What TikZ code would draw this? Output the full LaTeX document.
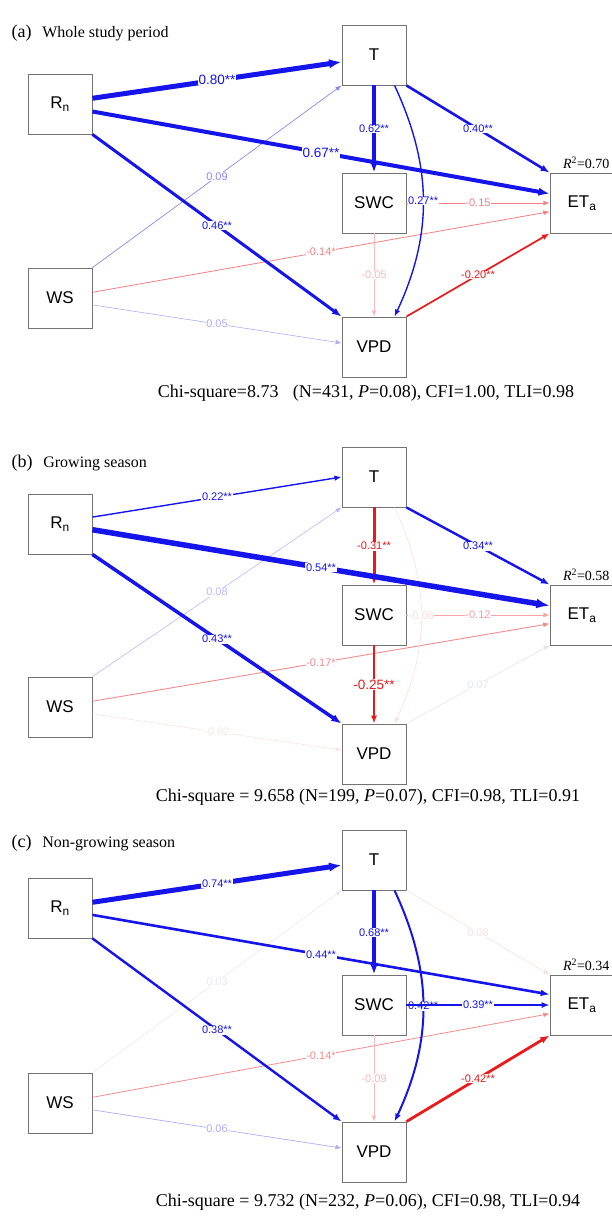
\documentclass[tikz,border=0pt]{standalone}
\usepackage{fontspec}
\setmainfont{Liberation Serif}
\setsansfont{Liberation Sans}
\usetikzlibrary{arrows.meta}
\definecolor{pathblue}{RGB}{20,20,235}
\definecolor{pathred}{RGB}{235,25,25}

\begin{document}
\begin{tikzpicture}[x=1pt, y=-1pt,
    every node/.style={align=center},
    box/.style={rectangle, draw=black!55, line width=0.9pt, minimum width=64pt, minimum height=60pt, inner sep=2pt, font=\sffamily\fontsize{17}{19}\selectfont},
    arr/.style={-{Latex[length=5pt 1.5, width=4pt 1.1]}},
    lbl/.style={fill=white, inner sep=0.6pt, font=\sffamily\fontsize{11}{12}\selectfont},
    biglbl/.style={lbl, font=\sffamily\fontsize{13.5}{15}\selectfont},
    panel/.style={anchor=west, font=\fontsize{18}{20}\selectfont},
    fitline/.style={font=\fontsize{18}{20}\selectfont},
    rsq/.style={anchor=south west, font=\fontsize{14}{16}\selectfont}
]
\useasboundingbox (0,0) rectangle (612,1218);

% (a) whole study period
\node[panel] (titA) at (8,33) {(a)\hspace{0.6em}{\fontsize{16}{18}\selectfont Whole study period}};
\node[box] (rnA)  at (60,104)  {R\textsubscript{n}};
\node[box] (tA)   at (374,55)  {T};
\node[box] (swcA) at (374,203) {SWC};
\node[box] (etA)  at (582,203) {ET\textsubscript{a}};
\node[box] (wsA)  at (60,298)  {WS};
\node[box] (vpdA) at (374,347) {VPD};
\node[rsq] (rsqA) at ([xshift=10pt]etA.north west) {\textit{R}\textsuperscript{2}=0.70};

\draw[arr, line width=0.6pt, pathblue!35] (wsA.-12) -- node[lbl]{0.05} (vpdA.173);
\draw[arr, line width=0.7pt, pathblue!50] (wsA.north east) -- node[lbl]{0.09} (tA.south west);
\draw[arr, line width=0.8pt, pathred!55] (wsA.10) -- node[lbl]{-0.14*} (etA.195);
\draw[arr, line width=0.6pt, pathred!30] (swcA.south) -- node[lbl]{-0.05} (vpdA.north);
\draw[arr, line width=0.8pt, pathred!55] (swcA.east) -- node[lbl]{-0.15} (etA.west);
\draw[arr, line width=1.7pt, pathred] (vpdA.north east) -- node[lbl]{-0.20**} (etA.south west);
\draw[arr, line width=3pt, pathblue] (rnA.south east) -- node[lbl]{0.46**} (vpdA.north west);
\draw[arr, line width=1.4pt, pathblue] (tA.-56) to[bend left=25] node[lbl]{0.27**} (vpdA.56);
\draw[arr, line width=2.6pt, pathblue] (tA.south east) -- node[lbl]{0.40**} (etA.north west);
\draw[arr, line width=4pt, pathblue] (tA.south) -- node[lbl]{0.62**} (swcA.north);
\draw[arr, line width=4pt, pathblue] (rnA.-13) -- node[biglbl]{0.67**} (etA.164);
\draw[arr, line width=5pt, pathblue] (rnA.10) -- node[biglbl]{0.80**} (tA.192);
\node[fitline] (fitA) at (366,393) {Chi-square=8.73\hspace{0.8em}(N=431, \textit{P}=0.08), CFI=1.00, TLI=0.98};

% (b) growing season
\node[panel] (titB) at (8,463) {(b)\hspace{0.6em}{\fontsize{16}{18}\selectfont Growing season}};
\node[box] (rnB)  at (60,524)  {R\textsubscript{n}};
\node[box] (tB)   at (374,477) {T};
\node[box] (swcB) at (374,615) {SWC};
\node[box] (etB)  at (582,615) {ET\textsubscript{a}};
\node[box] (wsB)  at (60,707)  {WS};
\node[box] (vpdB) at (374,754) {VPD};
\node[rsq] (rsqB) at ([xshift=10pt]etB.north west) {\textit{R}\textsuperscript{2}=0.58};

\draw[arr, line width=0.6pt, pathred!12] (wsB.-12) -- node[lbl]{-0.02} (vpdB.173);
\draw[arr, line width=0.6pt, pathblue!30] (wsB.north east) -- node[lbl]{0.08} (tB.south west);
\draw[arr, line width=0.9pt, pathred!50] (wsB.10) -- node[lbl]{-0.17*} (etB.195);
\draw[arr, line width=0.6pt, pathblue!12] (vpdB.north east) -- node[lbl]{0.07} (etB.south west);
\draw[arr, line width=0.8pt, pathred!40] (swcB.east) -- node[lbl]{-0.12} (etB.west);
\draw[arr, line width=0.6pt, pathred!15] (tB.-56) to[bend left=25] node[lbl]{-0.06} (vpdB.56);
\draw[arr, line width=2pt, pathred] (swcB.south) -- node[biglbl]{-0.25**} (vpdB.north);
\draw[arr, line width=2.4pt, pathblue] (tB.south east) -- node[lbl]{0.34**} (etB.north west);
\draw[arr, line width=3pt, pathred] (tB.south) -- node[lbl]{-0.31**} (swcB.north);
\draw[arr, line width=3.5pt, pathblue] (rnB.south east) -- node[lbl]{0.43**} (vpdB.north west);
\draw[arr, line width=5.5pt, pathblue] (rnB.-10) -- node[lbl]{0.54**} (etB.164);
\draw[arr, line width=1.4pt, pathblue] (rnB.12) -- node[lbl]{0.22**} (tB.west);
\node[fitline] (fitB) at (368,797) {Chi-square = 9.658 (N=199, \textit{P}=0.07), CFI=0.98, TLI=0.91};

% (c) non-growing season
\node[panel] (titC) at (8,843) {(c)\hspace{0.6em}{\fontsize{16}{18}\selectfont Non-growing season}};
\node[box] (rnC)  at (60,908)   {R\textsubscript{n}};
\node[box] (tC)   at (374,860)  {T};
\node[box] (swcC) at (374,1005) {SWC};
\node[box] (etC)  at (582,1005) {ET\textsubscript{a}};
\node[box] (wsC)  at (60,1103)  {WS};
\node[box] (vpdC) at (374,1152) {VPD};
\node[rsq] (rsqC) at ([xshift=10pt]etC.north west) {\textit{R}\textsuperscript{2}=0.34};

\draw[arr, line width=0.6pt, pathblue!10] (wsC.north east) -- node[lbl]{0.03} (tC.south west);
\draw[arr, line width=0.7pt, pathblue!35] (wsC.-12) -- node[lbl]{0.06} (vpdC.173);
\draw[arr, line width=0.8pt, pathred!50] (wsC.10) -- node[lbl]{-0.14*} (etC.195);
\draw[arr, line width=0.6pt, pathred!14] (tC.south east) -- node[lbl]{0.08} (etC.north west);
\draw[arr, line width=0.6pt, pathred!30] (swcC.south) -- node[lbl]{-0.09} (vpdC.north);
\draw[arr, line width=2.8pt, pathred] (vpdC.north east) -- node[lbl]{-0.42**} (etC.south west);
\draw[arr, line width=2.4pt, pathblue] (rnC.south east) -- node[lbl]{0.38**} (vpdC.north west);
\draw[arr, line width=2.6pt, pathblue] (rnC.-12) -- node[lbl]{0.44**} (etC.162);
\draw[arr, line width=2pt, pathblue] (tC.-56) to[bend left=25] node[lbl]{0.42**} (vpdC.56);
\draw[arr, line width=2pt, pathblue] (swcC.east) -- node[lbl]{0.39**} (etC.west);
\draw[arr, line width=4.4pt, pathblue] (tC.south) -- node[lbl]{0.68**} (swcC.north);
\draw[arr, line width=5pt, pathblue] (rnC.10) -- node[lbl]{0.74**} (tC.189);
\node[fitline] (fitC) at (368,1202) {Chi-square = 9.732 (N=232, \textit{P}=0.06), CFI=0.98, TLI=0.94};
\end{tikzpicture}
\end{document}
